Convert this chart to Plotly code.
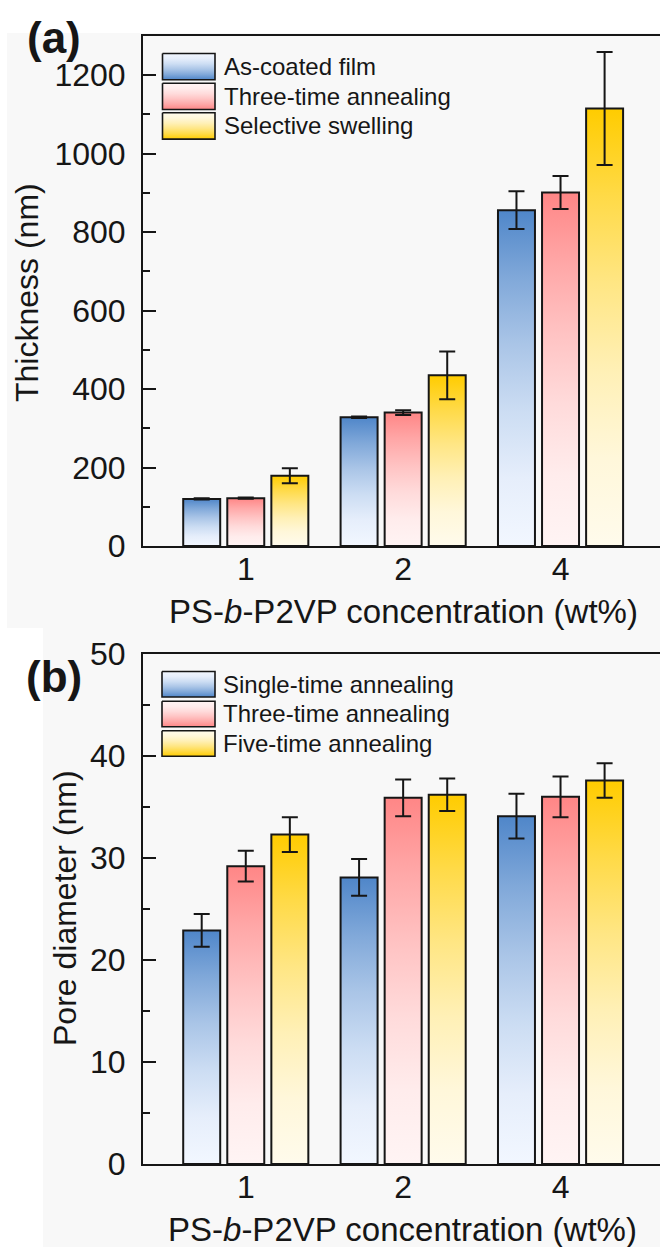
import plotly.graph_objects as go

# ---------------- data ----------------
categories = ["1", "2", "4"]

# panel (a) thickness (nm)
a_series = ["As-coated film", "Three-time annealing", "Selective swelling"]
a_as_coated = [120, 328, 856]
a_as_coated_err = [1.5, 2, 48]
a_three_time = [122, 340, 901]
a_three_time_err = [1.5, 6, 42]
a_selective = [179, 435, 1115]
a_selective_err = [19, 61, 144]

# panel (b) pore diameter (nm)
b_series = ["Single-time annealing", "Three-time annealing", "Five-time annealing"]
b_single = [22.9, 28.1, 34.1]
b_single_err = [1.6, 1.8, 2.2]
b_three = [29.2, 35.9, 36.0]
b_three_err = [1.5, 1.8, 2.0]
b_five = [32.3, 36.2, 37.6]
b_five_err = [1.7, 1.6, 1.7]

# ---------------- style ----------------
W, H = 660, 1247
FONT = "Liberation Sans, Arial, sans-serif"
INK = "#161616"
dark = [(79, 134, 201), (255, 134, 134), (255, 204, 0)]
light = [(242, 247, 255), (255, 244, 244), (255, 251, 236)]
BAR_W = 0.235
PITCH = 0.28
offsets = [-PITCH, 0.0, PITCH]


def mix(c0, c1, t):
    return "rgb(%d,%d,%d)" % tuple(round(a + (b - a) * t) for a, b in zip(c0, c1))


def grad_scale(s, reverse=False):
    # convex fade: light at the base, full colour at the top
    stops = [0, 0.2, 0.4, 0.6, 0.8, 1.0]
    cs = [[p, mix(light[s], dark[s], p ** 1.6)] for p in stops]
    if reverse:
        cs = [[1 - p, c] for p, c in cs][::-1]
    return cs


xdom = [143 / W, 1.0]
ydom_a = [(H - 546) / H, (H - 36) / H]
ydom_b = [(H - 1164) / H, (H - 654) / H]
xrange_ = [-0.653, 2.632]

fig = go.Figure()
xs = list(range(len(categories)))

panels = [
    dict(fx="x", fy="y", bx="x4", by="y4",
         vals=[a_as_coated, a_three_time, a_selective],
         errs=[a_as_coated_err, a_three_time_err, a_selective_err]),
    dict(fx="x2", fy="y2", bx="x5", by="y5",
         vals=[b_single, b_three, b_five],
         errs=[b_single_err, b_three_err, b_five_err]),
]

for p in panels:
    for s, (vals, errs) in enumerate(zip(p["vals"], p["errs"])):
        # gradient fills under each bar (base subplot)
        for i, v in zip(xs, vals):
            l = i + offsets[s] - BAR_W / 2
            r = l + BAR_W
            fig.add_trace(go.Scatter(
                x=[l, l, r, r, l], y=[0, v, v, 0, 0],
                fill="toself", mode="none",
                fillgradient=dict(type="vertical", colorscale=grad_scale(s),
                                  start=0, stop=v),
                xaxis=p["fx"], yaxis=p["fy"],
                hoverinfo="skip", showlegend=False))
        # bars with outline + error bars (overlay subplot, on top)
        fig.add_trace(go.Bar(
            x=xs, y=vals, width=BAR_W, offset=offsets[s] - BAR_W / 2,
            marker=dict(color="rgba(0,0,0,0)", line=dict(color=INK, width=2)),
            error_y=dict(type="data", array=errs, color=INK, thickness=2, width=8),
            xaxis=p["bx"], yaxis=p["by"], showlegend=False))


# ---------------- legends (pixel overlay axes) ----------------
def add_legend(names, xa, ya, x0, x1, tops, heights, text_x):
    for s, (name, t) in enumerate(zip(names, tops)):
        b = t + heights
        fig.add_trace(go.Scatter(
            x=[x0, x0, x1, x1, x0], y=[t, b, b, t, t],
            fill="toself", mode="lines",
            line=dict(color=INK, width=1.6),
            fillgradient=dict(type="vertical", colorscale=grad_scale(s, True)),
            xaxis=xa, yaxis=ya, hoverinfo="skip", showlegend=False))
        fig.add_annotation(x=text_x / W, y=1 - (t + heights / 2) / H,
                           xref="paper", yref="paper", text=name,
                           showarrow=False, xanchor="left", yanchor="middle",
                           font=dict(family=FONT, size=24, color=INK))


add_legend(a_series, "x3", "y3", 162.5, 215, [53.5, 83.2, 112.8], 26.3, 222)
add_legend(b_series, "x6", "y6", 162, 215, [671.5, 701.2, 730.8], 25.5, 221)

# ---------------- axes ----------------
axis_common = dict(showline=True, linewidth=2, linecolor=INK, showgrid=False,
                   zeroline=False, automargin=False,
                   tickfont=dict(family=FONT, size=32, color=INK))
hidden = dict(visible=False, fixedrange=True, automargin=False)

fig.update_layout(
    template="none",
    width=W, height=H, margin=dict(l=0, r=0, t=0, b=0, pad=0),
    paper_bgcolor="#f8f8f8", plot_bgcolor="rgba(0,0,0,0)",
    barmode="overlay", showlegend=False,
    xaxis=dict(domain=xdom, anchor="y", range=xrange_, tickvals=xs,
               ticktext=categories, ticks="", mirror=True,
               ticklabelstandoff=-6, **axis_common),
    yaxis=dict(domain=ydom_a, anchor="x", range=[0, 1300], tick0=0, dtick=200,
               ticks="inside", ticklen=13, tickwidth=2, tickcolor=INK,
               minor=dict(ticks="inside", ticklen=7, tickwidth=2,
                          tickcolor=INK, dtick=100, tick0=0),
               ticklabelstandoff=9, **axis_common),
    xaxis2=dict(domain=xdom, anchor="y2", range=xrange_, tickvals=xs,
                ticktext=categories, ticks="", mirror=True,
                ticklabelstandoff=-6, **axis_common),
    yaxis2=dict(domain=ydom_b, anchor="x2", range=[0, 50], tick0=0, dtick=10,
                ticks="inside", ticklen=13, tickwidth=2, tickcolor=INK,
                minor=dict(ticks="inside", ticklen=7, tickwidth=2,
                           tickcolor=INK, dtick=5, tick0=0),
                ticklabelstandoff=9, **axis_common),
    xaxis3=dict(domain=[0, 1], anchor="y3", range=[0, W], **hidden),
    yaxis3=dict(domain=[0, 1], anchor="x3", range=[H, 0], **hidden),
    xaxis6=dict(domain=[0, 1], anchor="y6", range=[0, W], **hidden),
    yaxis6=dict(domain=[0, 1], anchor="x6", range=[H, 0], **hidden),
    xaxis4=dict(overlaying="x", anchor="y4", range=xrange_, **hidden),
    yaxis4=dict(overlaying="y", anchor="x4", range=[0, 1300], **hidden),
    xaxis5=dict(overlaying="x2", anchor="y5", range=xrange_, **hidden),
    yaxis5=dict(overlaying="y2", anchor="x5", range=[0, 50], **hidden),
)

# background white strips (screenshot border look)
for x0, y0, x1, y1 in [(0, 0, W, 33), (0, 0, 7, 628), (0, 628, 43, H)]:
    fig.add_shape(type="rect", xref="paper", yref="paper",
                  x0=x0 / W, x1=x1 / W, y0=1 - y1 / H, y1=1 - y0 / H,
                  fillcolor="white", line=dict(width=0), layer="below")


# ---------------- titles ----------------
def ann(text, px, py, size, angle=0, bold=False):
    fig.add_annotation(x=px / W, y=1 - py / H, xref="paper", yref="paper",
                       text=f"<b>{text}</b>" if bold else text,
                       showarrow=False, xanchor="center", yanchor="middle",
                       textangle=angle,
                       font=dict(family=FONT, size=size, color=INK))


ann("(a)", 54, 37, 44, bold=True)
ann("(b)", 54, 676, 44, bold=True)
ann("Thickness (nm)", 27, 293, 32, angle=-90)
ann("Pore diameter (nm)", 65, 908, 32, angle=-90)
ann("PS-<i>b</i>-P2VP concentration (wt%)", 403, 612, 33)
ann("PS-<i>b</i>-P2VP concentration (wt%)", 402, 1229, 33)

fig.write_html("out.html")
